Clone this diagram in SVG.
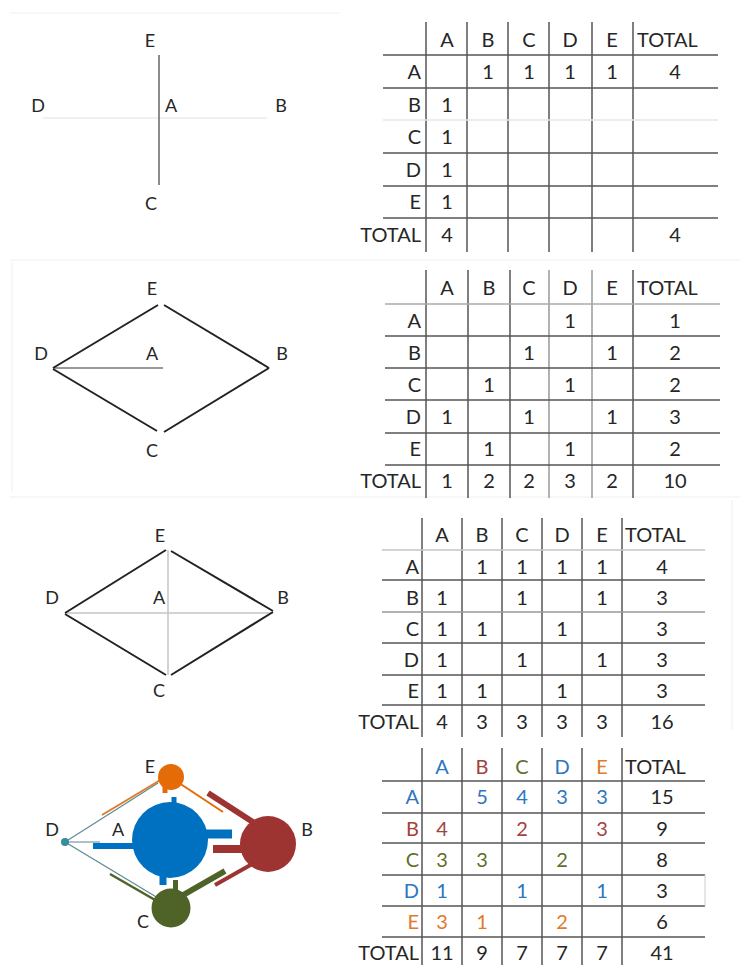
<svg xmlns="http://www.w3.org/2000/svg" width="750" height="965" viewBox="0 0 750 965">
<style>
text{font-family:Lato,"Open Sans","Liberation Sans",sans-serif;fill:#262626}
.lbl{font-size:18px;text-anchor:middle}
.t{font-size:20px;text-anchor:middle}
.rl{font-size:20px;text-anchor:end}
.tl{font-size:20px;text-anchor:start}
.gv{stroke:#555;stroke-width:1.5}
.gh{stroke:#555;stroke-width:1.5}
.edge{stroke:#222;stroke-width:2;fill:none}
.faint{stroke:#efefef;stroke-width:1}
.cA{fill:#2e75c0}.cB{fill:#a3423c}.cC{fill:#5f6f2a}.cD{fill:#2e75c0}.cE{fill:#e07a2c}
</style>
<rect width="750" height="965" fill="#fff"/>
<g id="frame">
<line class="faint" x1="10" y1="13" x2="340" y2="13"/>
<line class="faint" x1="10" y1="260" x2="740" y2="260"/>
<line class="faint" x1="12" y1="262" x2="12" y2="492"/>
<line class="faint" x1="10" y1="497" x2="740" y2="497"/>
<line class="faint" x1="732" y1="500" x2="732" y2="730"/>
</g>

<!-- Panel 1 -->
<g id="p1-connectors">
<line x1="43" y1="118" x2="267" y2="118" stroke="#e2e2e2" stroke-width="1.2"/>
<line x1="159" y1="55" x2="159" y2="185" stroke="#666" stroke-width="1.5"/>
</g>
<g id="p1-E"><text class="lbl" x="150" y="47">E</text></g>
<g id="p1-D"><text class="lbl" x="38" y="112">D</text></g>
<g id="p1-A"><text class="lbl" x="171" y="112">A</text></g>
<g id="p1-B"><text class="lbl" x="281" y="112">B</text></g>
<g id="p1-C"><text class="lbl" x="151" y="210">C</text></g>

<g id="table1">
<g>
<line class="gv" x1="426" y1="22" x2="426" y2="252"/>
<line class="gv" x1="467" y1="22" x2="467" y2="252"/>
<line class="gv" x1="508" y1="22" x2="508" y2="252"/>
<line class="gv" x1="549" y1="22" x2="549" y2="252"/>
<line class="gv" x1="592" y1="22" x2="592" y2="252"/>
<line class="gv" x1="633" y1="22" x2="633" y2="252"/>
<line class="gh" x1="383" y1="55" x2="718" y2="55"/>
<line class="gh" x1="383" y1="88" x2="718" y2="88"/>
<line x1="383" y1="120" x2="718" y2="120" style="stroke:#e6e6e6;stroke-width:1.5"/>
<line class="gh" x1="383" y1="153" x2="718" y2="153"/>
<line class="gh" x1="383" y1="186" x2="718" y2="186"/>
<line class="gh" x1="383" y1="218" x2="718" y2="218"/>
</g>
<text class="t" x="447" y="47">A</text><text class="t" x="488" y="47">B</text><text class="t" x="529" y="47">C</text><text class="t" x="570" y="47">D</text><text class="t" x="612" y="47">E</text><text class="tl" x="637" y="47">TOTAL</text>
<text class="rl" x="421" y="79">A</text><text class="rl" x="421" y="112">B</text><text class="rl" x="421" y="144">C</text><text class="rl" x="421" y="177">D</text><text class="rl" x="421" y="209">E</text><text class="rl" x="421" y="242">TOTAL</text>
<text class="t" x="488" y="79">1</text><text class="t" x="529" y="79">1</text><text class="t" x="570" y="79">1</text><text class="t" x="612" y="79">1</text><text class="t" x="675" y="79">4</text>
<text class="t" x="447" y="112">1</text><text class="t" x="447" y="144">1</text><text class="t" x="447" y="177">1</text><text class="t" x="447" y="209">1</text>
<text class="t" x="447" y="242">4</text><text class="t" x="675" y="242">4</text>
</g>

<!-- Panel 2 -->
<g id="p2-connectors">
<line x1="53" y1="368" x2="163" y2="368" stroke="#777" stroke-width="1.5"/>
<line class="edge" x1="53" y1="368" x2="158" y2="305"/>
<line class="edge" x1="164" y1="305" x2="269" y2="368"/>
<line class="edge" x1="53" y1="369" x2="157" y2="431"/>
<line class="edge" x1="164" y1="432" x2="269" y2="368"/>
</g>
<g id="p2-E"><text class="lbl" x="152" y="295">E</text></g>
<g id="p2-D"><text class="lbl" x="41" y="360">D</text></g>
<g id="p2-A"><text class="lbl" x="152" y="360">A</text></g>
<g id="p2-B"><text class="lbl" x="282" y="360">B</text></g>
<g id="p2-C"><text class="lbl" x="152" y="457">C</text></g>

<g id="table2">
<g>
<line class="gv" x1="426" y1="270" x2="426" y2="498"/>
<line class="gv" x1="468" y1="270" x2="468" y2="498"/>
<line class="gv" x1="510" y1="270" x2="510" y2="498"/>
<line x1="549" y1="270" x2="549" y2="498" style="stroke:#999;stroke-width:1.5"/>
<line x1="592" y1="270" x2="592" y2="498" style="stroke:#999;stroke-width:1.5"/>
<line class="gv" x1="633" y1="270" x2="633" y2="498"/>
<line x1="385" y1="304" x2="720" y2="304" style="stroke:#aaa;stroke-width:1.5"/>
<line class="gh" x1="385" y1="336" x2="720" y2="336"/>
<line class="gh" x1="385" y1="368" x2="720" y2="368"/>
<line class="gh" x1="385" y1="400" x2="720" y2="400"/>
<line class="gh" x1="385" y1="433" x2="720" y2="433"/>
<line class="gh" x1="385" y1="465" x2="720" y2="465"/>
</g>
<text class="t" x="447" y="295">A</text><text class="t" x="489" y="295">B</text><text class="t" x="529" y="295">C</text><text class="t" x="570" y="295">D</text><text class="t" x="612" y="295">E</text><text class="tl" x="637" y="295">TOTAL</text>
<text class="rl" x="421" y="328">A</text><text class="rl" x="421" y="360">B</text><text class="rl" x="421" y="392">C</text><text class="rl" x="421" y="424">D</text><text class="rl" x="421" y="456">E</text><text class="rl" x="421" y="488">TOTAL</text>
<text class="t" x="570" y="328">1</text><text class="t" x="675" y="328">1</text>
<text class="t" x="529" y="360">1</text><text class="t" x="612" y="360">1</text><text class="t" x="675" y="360">2</text>
<text class="t" x="489" y="392">1</text><text class="t" x="570" y="392">1</text><text class="t" x="675" y="392">2</text>
<text class="t" x="447" y="424">1</text><text class="t" x="529" y="424">1</text><text class="t" x="612" y="424">1</text><text class="t" x="675" y="424">3</text>
<text class="t" x="489" y="456">1</text><text class="t" x="570" y="456">1</text><text class="t" x="675" y="456">2</text>
<text class="t" x="447" y="488">1</text><text class="t" x="489" y="488">2</text><text class="t" x="529" y="488">2</text><text class="t" x="570" y="488">3</text><text class="t" x="612" y="488">2</text><text class="t" x="675" y="488">10</text>
</g>

<!-- Panel 3 -->
<g id="p3-connectors">
<line x1="65" y1="613" x2="273" y2="613" stroke="#c4c4c4" stroke-width="1.5"/>
<line x1="168" y1="550" x2="168" y2="675" stroke="#c4c4c4" stroke-width="1.5"/>
<line class="edge" x1="65" y1="613" x2="166" y2="550"/>
<line class="edge" x1="171" y1="551" x2="273" y2="611"/>
<line class="edge" x1="65" y1="614" x2="166" y2="675"/>
<line class="edge" x1="171" y1="675" x2="273" y2="612"/>
</g>
<g id="p3-E"><text class="lbl" x="160" y="542">E</text></g>
<g id="p3-D"><text class="lbl" x="52" y="604">D</text></g>
<g id="p3-A"><text class="lbl" x="159" y="604">A</text></g>
<g id="p3-B"><text class="lbl" x="283" y="604">B</text></g>
<g id="p3-C"><text class="lbl" x="159" y="697">C</text></g>

<g id="table3">
<g>
<line class="gv" x1="422" y1="518" x2="422" y2="737"/>
<line class="gv" x1="462" y1="518" x2="462" y2="737"/>
<line class="gv" x1="502" y1="518" x2="502" y2="737"/>
<line class="gv" x1="542" y1="518" x2="542" y2="737"/>
<line class="gv" x1="582" y1="518" x2="582" y2="737"/>
<line class="gv" x1="622" y1="518" x2="622" y2="737"/>
<line x1="382" y1="550" x2="705" y2="550" style="stroke:#c4c4c4;stroke-width:1.5"/>
<line class="gh" x1="382" y1="580" x2="705" y2="580"/>
<line x1="382" y1="612" x2="705" y2="612" style="stroke:#999;stroke-width:1.5"/>
<line class="gh" x1="382" y1="643" x2="705" y2="643"/>
<line class="gh" x1="382" y1="675" x2="705" y2="675"/>
<line class="gh" x1="382" y1="705" x2="705" y2="705"/>
</g>
<text class="t" x="442" y="542">A</text><text class="t" x="482" y="542">B</text><text class="t" x="522" y="542">C</text><text class="t" x="562" y="542">D</text><text class="t" x="602" y="542">E</text><text class="tl" x="625" y="542">TOTAL</text>
<text class="rl" x="419" y="574">A</text><text class="rl" x="419" y="605">B</text><text class="rl" x="419" y="636">C</text><text class="rl" x="419" y="667">D</text><text class="rl" x="419" y="698">E</text><text class="rl" x="419" y="729">TOTAL</text>
<text class="t" x="482" y="574">1</text><text class="t" x="522" y="574">1</text><text class="t" x="562" y="574">1</text><text class="t" x="602" y="574">1</text><text class="t" x="662" y="574">4</text>
<text class="t" x="442" y="605">1</text><text class="t" x="522" y="605">1</text><text class="t" x="602" y="605">1</text><text class="t" x="662" y="605">3</text>
<text class="t" x="442" y="636">1</text><text class="t" x="482" y="636">1</text><text class="t" x="562" y="636">1</text><text class="t" x="662" y="636">3</text>
<text class="t" x="442" y="667">1</text><text class="t" x="522" y="667">1</text><text class="t" x="602" y="667">1</text><text class="t" x="662" y="667">3</text>
<text class="t" x="442" y="698">1</text><text class="t" x="482" y="698">1</text><text class="t" x="562" y="698">1</text><text class="t" x="662" y="698">3</text>
<text class="t" x="442" y="729">4</text><text class="t" x="482" y="729">3</text><text class="t" x="522" y="729">3</text><text class="t" x="562" y="729">3</text><text class="t" x="602" y="729">3</text><text class="t" x="662" y="729">16</text>
</g>

<!-- Panel 4 -->
<g id="p4-connectors" fill="none" stroke-linecap="butt">
<line x1="65" y1="842" x2="158" y2="783" stroke="#5b8a94" stroke-width="1.2"/>
<line x1="102" y1="815" x2="162" y2="779" stroke="#e07a2c" stroke-width="2"/>
<line x1="65" y1="842" x2="158" y2="898" stroke="#5b8a94" stroke-width="1.2"/>
<line x1="110" y1="874" x2="162" y2="904" stroke="#4f6228" stroke-width="2.5"/>
<line x1="65" y1="842" x2="100" y2="842" stroke="#5b8a94" stroke-width="1.2"/>
<line x1="93" y1="846" x2="150" y2="846" stroke="#0070c0" stroke-width="6"/>
<line x1="170" y1="834" x2="232" y2="834" stroke="#0070c0" stroke-width="9"/>
<line x1="213" y1="849" x2="260" y2="849" stroke="#9e3431" stroke-width="8"/>
<line x1="174" y1="830" x2="174" y2="797" stroke="#0070c0" stroke-width="5"/>
<line x1="165" y1="777" x2="165" y2="793" stroke="#e36c09" stroke-width="5"/>
<line x1="163" y1="850" x2="163" y2="885" stroke="#0070c0" stroke-width="7"/>
<line x1="175.5" y1="905" x2="175.5" y2="880" stroke="#4f6228" stroke-width="5"/>
<line x1="173" y1="779" x2="223" y2="812" stroke="#e36c09" stroke-width="2"/>
<line x1="208" y1="793" x2="256" y2="824" stroke="#9e3431" stroke-width="6"/>
<line x1="171" y1="902" x2="225" y2="871" stroke="#4f6228" stroke-width="6"/>
<line x1="215" y1="885" x2="254" y2="863" stroke="#9e3431" stroke-width="4"/>
</g>
<g id="p4-A"><circle cx="170" cy="840" r="38" fill="#0070c0"/><text class="lbl" x="118" y="836">A</text></g>
<g id="p4-B"><circle cx="268" cy="844" r="28" fill="#9e3431"/><text class="lbl" x="307" y="836">B</text></g>
<g id="p4-C"><circle cx="171" cy="908" r="19.5" fill="#4f6228"/><text class="lbl" x="143" y="928">C</text></g>
<g id="p4-E"><circle cx="171" cy="777" r="13" fill="#e36c09"/><text class="lbl" x="150" y="773">E</text></g>
<g id="p4-D"><circle cx="65" cy="842" r="4" fill="#3a8aa0"/><text class="lbl" x="52" y="836">D</text></g>

<g id="table4">
<g>
<line class="gv" x1="422" y1="748" x2="422" y2="965"/>
<line class="gv" x1="462" y1="748" x2="462" y2="965"/>
<line class="gv" x1="502" y1="748" x2="502" y2="965"/>
<line class="gv" x1="542" y1="748" x2="542" y2="965"/>
<line class="gv" x1="582" y1="748" x2="582" y2="965"/>
<line class="gv" x1="622" y1="748" x2="622" y2="965"/>
<line class="gh" x1="382" y1="781" x2="705" y2="781"/>
<line class="gh" x1="382" y1="813" x2="705" y2="813"/>
<line class="gh" x1="382" y1="843" x2="705" y2="843"/>
<line class="gh" x1="382" y1="875" x2="705" y2="875"/>
<line class="gh" x1="382" y1="906" x2="705" y2="906"/>
<line class="gh" x1="382" y1="937" x2="705" y2="937"/>
<line x1="705" y1="875" x2="705" y2="906" style="stroke:#ccc;stroke-width:1"/>
</g>
<text class="t cA" x="442" y="774">A</text><text class="t cB" x="482" y="774">B</text><text class="t cC" x="522" y="774">C</text><text class="t cD" x="562" y="774">D</text><text class="t cE" x="602" y="774">E</text><text class="tl" x="625" y="774">TOTAL</text>
<text class="rl cA" x="419" y="804">A</text><text class="rl cB" x="419" y="836">B</text><text class="rl cC" x="419" y="867">C</text><text class="rl cD" x="419" y="898">D</text><text class="rl cE" x="419" y="929">E</text><text class="rl" x="419" y="960">TOTAL</text>
<text class="t cA" x="482" y="804">5</text><text class="t cA" x="522" y="804">4</text><text class="t cA" x="562" y="804">3</text><text class="t cA" x="602" y="804">3</text><text class="t" x="662" y="804">15</text>
<text class="t cB" x="442" y="836">4</text><text class="t cB" x="522" y="836">2</text><text class="t cB" x="602" y="836">3</text><text class="t" x="662" y="836">9</text>
<text class="t cC" x="442" y="867">3</text><text class="t cC" x="482" y="867">3</text><text class="t cC" x="562" y="867">2</text><text class="t" x="662" y="867">8</text>
<text class="t cD" x="442" y="898">1</text><text class="t cD" x="522" y="898">1</text><text class="t cD" x="602" y="898">1</text><text class="t" x="662" y="898">3</text>
<text class="t cE" x="442" y="929">3</text><text class="t cE" x="482" y="929">1</text><text class="t cE" x="562" y="929">2</text><text class="t" x="662" y="929">6</text>
<text class="t" x="442" y="960">11</text><text class="t" x="482" y="960">9</text><text class="t" x="522" y="960">7</text><text class="t" x="562" y="960">7</text><text class="t" x="602" y="960">7</text><text class="t" x="662" y="960">41</text>
</g>
</svg>
